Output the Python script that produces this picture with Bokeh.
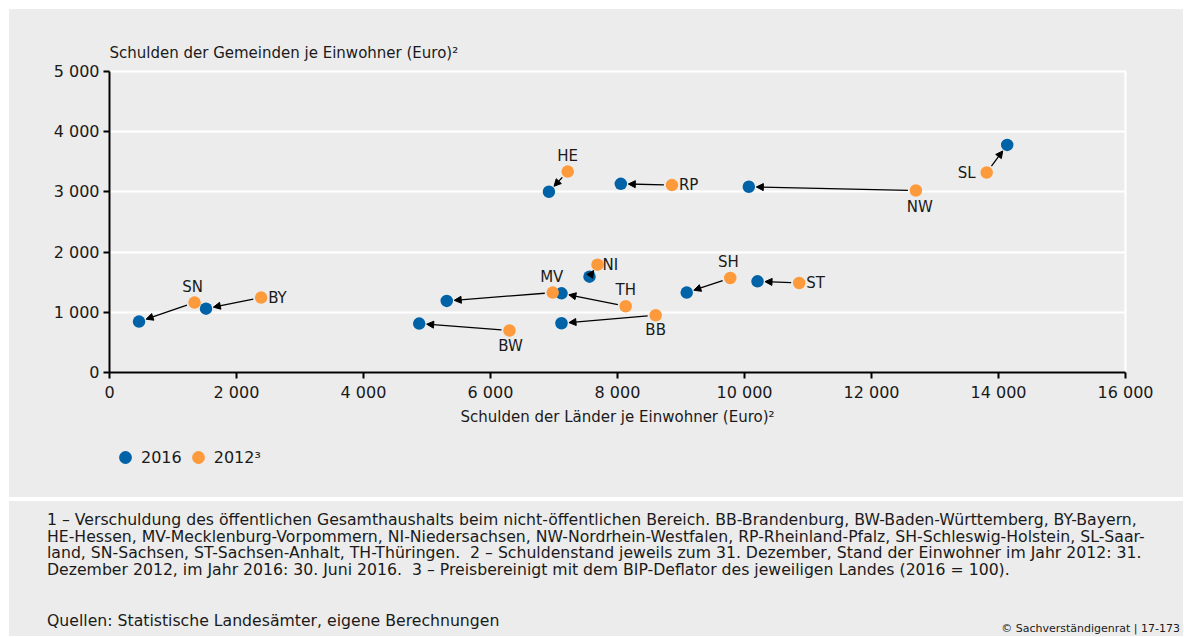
from bokeh.plotting import figure
from bokeh.models import (ColumnDataSource, Arrow, NormalHead, Legend, LegendItem,
                          FixedTicker, Range1d, Div)
from bokeh.layouts import column
from bokeh.embed import file_html
from bokeh.resources import INLINE
from bokeh.core.properties import value
import math

# ---------------- data ----------------
states = ["SN", "BY", "BW", "MV", "BB", "TH", "NI", "HE", "RP", "NW", "SH", "ST", "SL"]
laender_2016 = [465, 1520, 4877, 5311, 7118, 7118, 7559, 6920, 8052, 10068, 9090, 10205, 14137]
gemeinden_2016 = [846, 1061, 813, 1189, 818, 1315, 1592, 3002, 3134, 3085, 1327, 1514, 3781]
laender_2012 = [1339, 2388, 6299, 6980, 8601, 8129, 7685, 7216, 8857, 12699, 9776, 10861, 13814]
gemeinden_2012 = [1161, 1244, 697, 1327, 951, 1100, 1791, 3338, 3113, 3023, 1570, 1487, 3322]

x_ticks = [0, 2000, 4000, 6000, 8000, 10000, 12000, 14000, 16000]
x_tick_labels = ["0", "2 000", "4 000", "6 000", "8 000", "10 000", "12 000", "14 000", "16 000"]
y_ticks = [0, 1000, 2000, 3000, 4000, 5000]
y_tick_labels = ["0", "1 000", "2 000", "3 000", "4 000", "5 000"]

series_labels = ["2016", "2012\u00b3"]
x_title = "Schulden der Länder je Einwohner (Euro)\u00b2"
y_title = "Schulden der Gemeinden je Einwohner (Euro)\u00b2"

footnote_lines = [
    "1 \u2013 Verschuldung des öffentlichen Gesamthaushalts beim nicht-öffentlichen Bereich. BB-Brandenburg, BW-Baden-Württemberg, BY-Bayern,",
    "HE-Hessen, MV-Mecklenburg-Vorpommern, NI-Niedersachsen, NW-Nordrhein-Westfalen, RP-Rheinland-Pfalz, SH-Schleswig-Holstein, SL-Saar-",
    "land, SN-Sachsen, ST-Sachsen-Anhalt, TH-Thüringen.&nbsp; 2 \u2013 Schuldenstand jeweils zum 31. Dezember, Stand der Einwohner im Jahr 2012: 31.",
    "Dezember 2012, im Jahr 2016: 30. Juni 2016.&nbsp; 3 \u2013 Preisbereinigt mit dem BIP-Deflator des jeweiligen Landes (2016 = 100).",
]
source_text = "Quellen: Statistische Landesämter, eigene Berechnungen"
copyright_text = "\u00a9 Sachverständigenrat | 17-173"

# ---------------- style ----------------
FONT = "DejaVu Sans"
BLUE = "#0062a7"
ORANGE = "#fd9a3b"
BG = "#ececec"
TXT = "#1a1a1a"

W = 1174
H1 = 423          # chart figure (page y 9 .. 432)
HL = 50           # legend strip (page y 432 .. 482)
H2 = 154          # footnote panel incl. separator (page y 482 .. 636)
FL, FT = 100, 62
FR = W - 1116
FB = H1 - 363
frame_w = W - FL - FR
frame_h = H1 - FT - FB

p = figure(width=W, height=H1, x_range=Range1d(0, 16000), y_range=Range1d(0, 5000),
           output_backend="svg", toolbar_location=None,
           min_border_left=FL, min_border_right=FR, min_border_top=FT, min_border_bottom=FB,
           background_fill_color=BG, border_fill_color=BG, margin=0)

sx = frame_w / 16000.0
sy = frame_h / 5000.0

p.title.text = y_title
p.title.align = "left"
p.title.text_font = FONT
p.title.text_font_size = "15px"
p.title.text_font_style = "normal"
p.title.text_color = TXT
p.title.standoff = 19

p.outline_line_color = "white"
p.outline_line_width = 2
p.xgrid.visible = False
p.ygrid.grid_line_color = "white"
p.ygrid.grid_line_width = 2
p.ygrid.ticker = FixedTicker(ticks=y_ticks)

for ax in (p.xaxis[0], p.yaxis[0]):
    ax.axis_line_color = "black"
    ax.axis_line_width = 2
    ax.major_tick_line_color = "black"
    ax.major_tick_line_width = 2
    ax.major_tick_out = 6
    ax.major_tick_in = 0
    ax.minor_tick_line_color = None
    ax.major_label_text_font = FONT
    ax.major_label_text_font_size = "16px"
    ax.major_label_text_color = TXT

p.xaxis.ticker = FixedTicker(ticks=x_ticks)
p.xaxis.major_label_overrides = {t: s for t, s in zip(x_ticks, x_tick_labels)}
p.xaxis.major_label_standoff = 4
p.xaxis.axis_label = x_title
p.xaxis.axis_label_text_font = FONT
p.xaxis.axis_label_text_font_size = "15px"
p.xaxis.axis_label_text_font_style = "normal"
p.xaxis.axis_label_text_color = TXT
p.xaxis.axis_label_standoff = 3

p.yaxis.ticker = FixedTicker(ticks=y_ticks)
p.yaxis.major_label_overrides = {t: s for t, s in zip(y_ticks, y_tick_labels)}
p.yaxis.major_label_standoff = 4

# arrows (2012 -> 2016), shortened so they stop at marker edges
x0, y0, x1, y1 = [], [], [], []
for xa, ya, xb, yb in zip(laender_2012, gemeinden_2012, laender_2016, gemeinden_2016):
    dxp = (xb - xa) * sx
    dyp = (yb - ya) * sy
    L = math.hypot(dxp, dyp)
    ux, uy = dxp / L, dyp / L
    x0.append(xa + ux * 8 / sx)
    y0.append(ya + uy * 8 / sy)
    x1.append(xb - ux * 7.5 / sx)
    y1.append(yb - uy * 7.5 / sy)
arrow_src = ColumnDataSource(dict(x0=x0, y0=y0, x1=x1, y1=y1))
p.add_layout(Arrow(end=NormalHead(size=7, fill_color="black", line_color="black", line_width=1),
                   x_start="x0", y_start="y0", x_end="x1", y_end="y1",
                   line_color="black", line_width=1.3, source=arrow_src))

src16 = ColumnDataSource(dict(x=laender_2016, y=gemeinden_2016))
src12 = ColumnDataSource(dict(x=laender_2012, y=gemeinden_2012))
p.scatter("x", "y", source=src16, size=12.5, fill_color=BLUE, line_color=None)
p.scatter("x", "y", source=src12, size=12.5, fill_color=ORANGE, line_color=None)

# state labels placed next to the 2012 point
place = {
    "HE": ("above", 0), "RP": ("right", 0), "NW": ("below", 4), "SL": ("left", 0),
    "SN": ("above", -2), "BY": ("right", 0), "MV": ("above", -1), "NI": ("right", -2),
    "TH": ("above", 0), "SH": ("above", -2), "ST": ("right", 0), "BB": ("below", 0),
    "BW": ("below", 1),
}
lx, ly, lt, la, lb, lxo, lyo = [], [], [], [], [], [], []
for s, xv, yv in zip(states, laender_2012, gemeinden_2012):
    side, d = place[s]
    lx.append(xv); ly.append(yv); lt.append(s)
    if side == "above":
        la.append("center"); lb.append("bottom"); lxo.append(d); lyo.append(-7)
    elif side == "below":
        la.append("center"); lb.append("top"); lxo.append(d); lyo.append(7 if s == "NW" else 6)
    elif side == "right":
        la.append("left"); lb.append("middle"); lxo.append(7 + d); lyo.append(0)
    else:
        la.append("right"); lb.append("middle"); lxo.append(-11); lyo.append(0)
lab_src = ColumnDataSource(dict(x=lx, y=ly, t=lt, a=la, b=lb, xo=lxo, yo=lyo))
p.text("x", "y", text="t", source=lab_src, text_align="a", text_baseline="b",
       x_offset="xo", y_offset="yo", text_font=value(FONT), text_font_size="15px",
       text_color=TXT)

# ---------------- legend strip ----------------
# proxy renderers (one data point each, outside the strip's visible range) carry the legend swatches
lf = figure(width=W, height=HL, x_range=Range1d(0, 1), y_range=Range1d(0, 1),
            output_backend="svg", toolbar_location=None, x_axis_type=None, y_axis_type=None,
            min_border_left=86, min_border_right=FR, min_border_top=0, min_border_bottom=0,
            background_fill_color=BG, border_fill_color=BG, margin=0)
lf.grid.visible = False
lf.outline_line_color = None
g16 = lf.scatter(x=laender_2016[:1], y=gemeinden_2016[:1], size=12.5, fill_color=BLUE, line_color=None)
g12 = lf.scatter(x=laender_2012[:1], y=gemeinden_2012[:1], size=12.5, fill_color=ORANGE, line_color=None)
legend = Legend(items=[LegendItem(label=series_labels[0], renderers=[g16]),
                       LegendItem(label=series_labels[1], renderers=[g12])],
                orientation="horizontal", location="center_left",
                glyph_width=32, glyph_height=32, label_standoff=0, spacing=0,
                padding=0, margin=0, border_line_color=None, background_fill_alpha=0,
                label_text_font=FONT, label_text_font_size="16px", label_text_color=TXT)
lf.add_layout(legend, "center")

# ---------------- footnote panel ----------------
lines_html = "<br>".join(footnote_lines)
foot_html = (
    f'<div style="position:relative;width:{W}px;height:{H2}px;overflow:hidden;background:{BG};'
    f'font-family:\'{FONT}\';color:{TXT};white-space:nowrap;">'
    f'<div style="position:absolute;left:0;top:15px;width:{W}px;height:4px;background:#ffffff;"></div>'
    f'<div style="position:absolute;left:38px;top:30px;font-size:15.7px;line-height:16.7px;">{lines_html}</div>'
    f'<div style="position:absolute;left:38px;top:131px;font-size:15.7px;line-height:16.7px;">{source_text}</div>'
    f'<div style="position:absolute;right:3px;top:140px;font-size:11px;line-height:13px;">{copyright_text}</div>'
    '</div>'
)
foot = Div(text=foot_html, width=W, height=H2, margin=0)

layout = column(p, lf, foot, spacing=0, margin=(9, 0, 0, 9),
                styles={"background-color": BG})
open("out.html", "w").write(file_html(layout, INLINE))
